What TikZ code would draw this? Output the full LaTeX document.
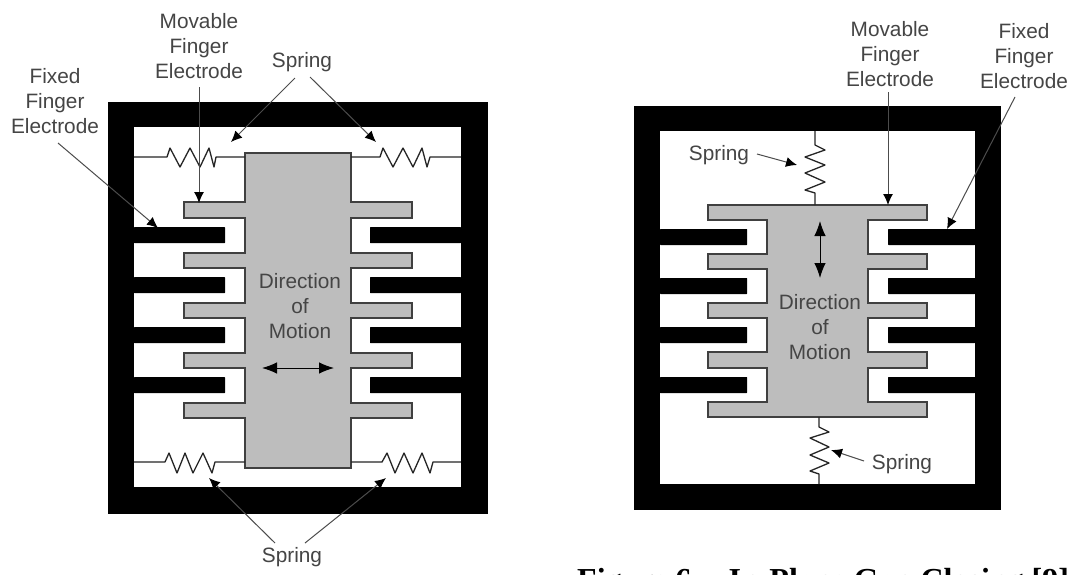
\documentclass[tikz,border=0pt]{standalone}
\usepackage{fontspec}
\setmainfont{Liberation Sans}
\newfontfamily\capfont{Liberation Serif}
\usetikzlibrary{arrows.meta}
\definecolor{bodygray}{gray}{0.74}
\definecolor{labelgray}{gray}{0.27}
\definecolor{leadgray}{gray}{0.3}
\tikzset{
  x=1pt,y=-1pt,
  frame/.style={fill=black,draw=none},
  hole/.style={fill=white,draw=none},
  fixedfinger/.style={fill=black,draw=none,rounded corners=0.5pt},
  movable/.style={fill=bodygray,draw=black!75,line width=1.3pt,line join=miter},
  wire/.style={draw=black!85,line width=1.3pt,line join=round},
  lbl/.style={inner sep=0pt,text=labelgray,font=\fontsize{20.8}{25.3}\selectfont,align=center},
  lead/.style={draw=leadgray,line width=1pt,-{Latex[length=11pt,width=10pt,black]}},
  motion/.style={draw=black,line width=1pt,{Latex[length=15pt,width=11.5pt]}-{Latex[length=15pt,width=11.5pt]}}
}
\newcommand{\leftbody}{(245,153) -- (351,153) -- (351,202) -- (412,202) -- (412,218) -- (351,218) -- (351,253) -- (412,253) -- (412,268) -- (351,268) -- (351,303) -- (412,303) -- (412,318) -- (351,318) -- (351,353) -- (412,353) -- (412,368) -- (351,368) -- (351,403) -- (412,403) -- (412,418) -- (351,418) -- (351,468) -- (245,468) -- (245,418) -- (184,418) -- (184,403) -- (245,403) -- (245,368) -- (184,368) -- (184,353) -- (245,353) -- (245,318) -- (184,318) -- (184,303) -- (245,303) -- (245,268) -- (184,268) -- (184,253) -- (245,253) -- (245,218) -- (184,218) -- (184,202) -- (245,202) -- cycle}
\newcommand{\rightbody}{(767,205) -- (927,205) -- (927,220) -- (868,220) -- (868,254) -- (927,254) -- (927,269) -- (868,269) -- (868,303) -- (927,303) -- (927,318) -- (868,318) -- (868,352) -- (927,352) -- (927,368) -- (868,368) -- (868,402) -- (927,402) -- (927,417) -- (708,417) -- (708,402) -- (767,402) -- (767,368) -- (708,368) -- (708,352) -- (767,352) -- (767,318) -- (708,318) -- (708,303) -- (767,303) -- (767,269) -- (708,269) -- (708,254) -- (767,254) -- (767,220) -- (708,220) -- (708,205) -- cycle}
\begin{document}
\begin{tikzpicture}
\useasboundingbox (0,0) rectangle (1076,574);
\fill[white] (0,0) rectangle (1076,574);
% left frame
\fill[frame] (108,102) rectangle (488,514);
\fill[hole] (134,127) rectangle (461,487);
\foreach \y in {227,277,327,377}{
  \fill[fixedfinger] (134,\y) rectangle (225,\y+16);
  \fill[fixedfinger] (370,\y) rectangle (461,\y+16);
}
\draw[movable] \leftbody;
% left springs
\coordinate (sa0) at (134,157); \coordinate (sa1) at (245,157);
\coordinate (sb0) at (351,157); \coordinate (sb1) at (461,157);
\coordinate (sc0) at (134,462); \coordinate (sc1) at (245,462);
\coordinate (sd0) at (351,462); \coordinate (sd1) at (461,462);
\draw[wire] (sa0) -- (167,157) -- (170,148) -- (180,167) -- (190,148) -- (200,167) -- (209,148) -- (214,167) -- (216,157) -- (sa1);
\draw[wire] (sb0) -- (380,157) -- (383,148) -- (393,167) -- (403,148) -- (413,167) -- (422,148) -- (427,167) -- (430,157) -- (sb1);
\draw[wire] (sc0) -- (165,462) -- (169,453) -- (177,473) -- (185,453) -- (193,473) -- (203,453) -- (212,473) -- (215,462) -- (sc1);
\draw[wire] (sd0) -- (382,462) -- (387,453) -- (395,473) -- (404,453) -- (413,473) -- (422,453) -- (430,473) -- (433,462) -- (sd1);
% right frame
\fill[frame] (634,106) rectangle (1001,510);
\fill[hole] (660,131) rectangle (975,484);
\foreach \y in {229,278,327,377}{
  \fill[fixedfinger] (660,\y) rectangle (747,\y+16);
  \fill[fixedfinger] (888,\y) rectangle (975,\y+16);
}
\draw[movable] \rightbody;
% right springs
\coordinate (se0) at (815,131); \coordinate (se1) at (815,205);
\coordinate (sf0) at (819,417); \coordinate (sf1) at (819,484);
\draw[wire] (se0) -- (815,145) -- (825,150) -- (805,157) -- (825,165) -- (805,173) -- (825,182) -- (805,190) -- (815,193) -- (se1);
\draw[wire] (sf0) -- (819,427) -- (829,432) -- (810,438) -- (829,447) -- (810,455) -- (829,463) -- (810,471) -- (819,474) -- (sf1);
% left labels
\node[lbl] (mvL) at (199,46) {Movable\\Finger\\Electrode};
\node[lbl] (fxL) at (55,101) {Fixed\\Finger\\Electrode};
\node[lbl] (spT) at (302,62) {Spring};
\node[lbl] (spB) at (292,557) {Spring};
\node[lbl] (dirL) at (300,306) {Direction\\of\\Motion};
\coordinate (mvLs) at (199,87); \coordinate (mvLe) at (199,203);
\coordinate (fxLs) at (58,143); \coordinate (fxLe) at (158,228);
\coordinate (spTa) at (295,78); \coordinate (spTb) at (231,142);
\coordinate (spTc) at (310,77); \coordinate (spTd) at (376,142);
\coordinate (spBa) at (275,543); \coordinate (spBb) at (209,478);
\coordinate (spBc) at (305,543); \coordinate (spBd) at (386,478);
\draw[lead] (mvLs) -- (mvLe);
\draw[lead] (fxLs) -- (fxLe);
\draw[lead] (spTa) -- (spTb);
\draw[lead] (spTc) -- (spTd);
\draw[lead] (spBa) -- (spBb);
\draw[lead] (spBc) -- (spBd);
\coordinate (mLa) at (262,368); \coordinate (mLb) at (334,368);
\draw[motion] (mLa) -- (mLb);
% right labels
\node[lbl] (mvR) at (890,54) {Movable\\Finger\\Electrode};
\node[lbl] (fxR) at (1024,56) {Fixed\\Finger\\Electrode};
\node[lbl] (spU) at (719,155) {Spring};
\node[lbl] (spV) at (902,464) {Spring};
\node[lbl] (dirR) at (820,327) {Direction\\of\\Motion};
\coordinate (mvRs) at (888,92); \coordinate (mvRe) at (888,205);
\coordinate (fxRs) at (1015,97); \coordinate (fxRe) at (947,229);
\coordinate (spUa) at (757,154); \coordinate (spUb) at (797,165);
\coordinate (spVa) at (864,461); \coordinate (spVb) at (831,450);
\draw[lead] (mvRs) -- (mvRe);
\draw[lead] (fxRs) -- (fxRe);
\draw[lead] (spUa) -- (spUb);
\draw[lead] (spVa) -- (spVb);
\coordinate (mRa) at (820,221); \coordinate (mRb) at (820,278);
\draw[motion] (mRa) -- (mRb);
% caption, cut by the page edge as in the reference
\begin{scope}
\clip (0,0) rectangle (1076,574);
\node[inner sep=0pt,anchor=base west,font=\capfont\bfseries\fontsize{32}{36}\selectfont] (cap) at (577,590) {Figure 6 -- In-Plane Gap Closing [9]};
\end{scope}
\end{tikzpicture}
\end{document}
